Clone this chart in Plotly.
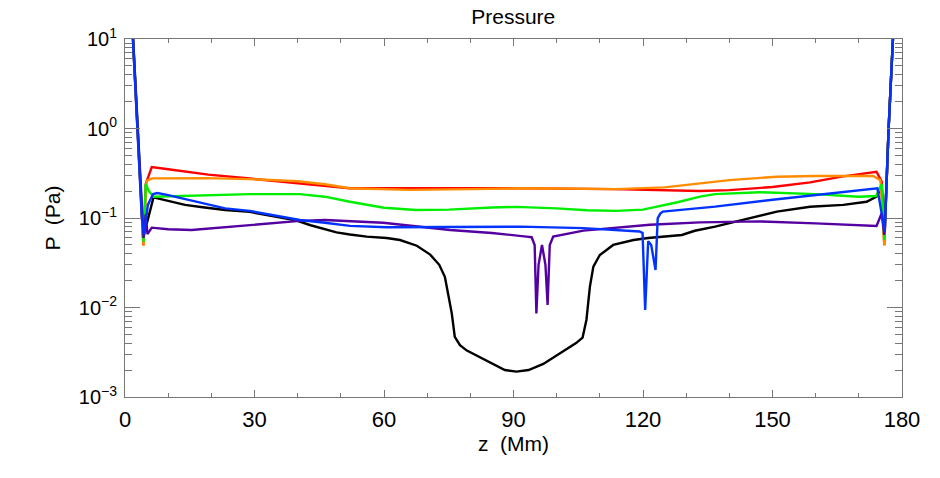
import plotly.graph_objects as go

# Shared steep boundary segments (z in Mm, P in Pa)
left_z = [0.8, 1.85, 2.85, 3.9]
left_p = [100, 10, 1.0, 0.1]
right_z = [176.1, 176.9, 177.9, 178.9]
right_p = [0.1, 1.0, 10, 100]

black_z = [4.2, 6.6, 10, 13.9, 18, 23.2, 28.9, 35, 39.6, 43, 46.3, 49, 52.1, 56, 60.6, 63.7, 67.6, 70.7, 72.8, 74.1, 75.0, 75.7,
           76.4, 77.6, 79.2, 82, 85.3, 88, 90.7, 93.5, 96.9, 100, 102.3, 104.5, 106, 106.9, 107.7, 108.5, 110, 113.1, 117.8,
           121.2, 129, 132, 136.7, 143.3, 151, 158.7, 166.4, 171.8, 174.1, 175.3, 176.0]
black_p = [0.06, 0.17, 0.155, 0.14, 0.132, 0.123, 0.117, 0.104, 0.094, 0.083, 0.0745, 0.069, 0.0655, 0.062, 0.0597, 0.0568,
           0.049, 0.039, 0.03, 0.022, 0.013, 0.0086, 0.0047, 0.0038, 0.0033, 0.0028, 0.00234, 0.002, 0.00192, 0.002, 0.00234,
           0.0029, 0.0034, 0.004, 0.0046, 0.0073, 0.0171, 0.0286, 0.0386, 0.05, 0.0568, 0.0597, 0.0646, 0.072, 0.08, 0.0954,
           0.118, 0.1335, 0.14, 0.152, 0.173, 0.225, 0.07]

red_z = [4.25, 4.8, 6.2, 10, 19.3, 28.9, 40, 46.3, 52, 70, 91.5, 113, 125, 133.2, 140, 150, 158.7, 166, 174.1, 175.3, 175.9]
red_p = [0.05, 0.24, 0.37, 0.35, 0.305, 0.276, 0.245, 0.226, 0.215, 0.215, 0.215, 0.21, 0.205, 0.2, 0.205, 0.222, 0.25, 0.29,
         0.329, 0.255, 0.05]

orange_z = [4.3, 5.0, 6.3, 19, 28.9, 40, 46.3, 52, 58, 66, 80, 91.5, 100, 113.5, 125, 133.2, 140, 151, 160, 173.3, 175.0, 175.9]
orange_p = [0.0487, 0.26, 0.277, 0.279, 0.272, 0.257, 0.238, 0.215, 0.21, 0.206, 0.21, 0.215, 0.214, 0.21, 0.22, 0.244, 0.265,
            0.289, 0.295, 0.295, 0.265, 0.049]

green_z = [4.3, 4.8, 5.5, 6.7, 15, 28.9, 40.5, 46.3, 52.1, 60, 67.4, 75, 85, 90.6, 100, 107, 113.8, 120, 128, 133.2, 136.7,
           147, 160, 170, 174, 175.3, 175.9]
green_p = [0.054, 0.24, 0.2, 0.173, 0.178, 0.185, 0.185, 0.173, 0.152, 0.13, 0.123, 0.124, 0.131, 0.133, 0.128, 0.122, 0.12,
           0.124, 0.15, 0.173, 0.185, 0.194, 0.185, 0.173, 0.176, 0.24, 0.057]

purple_z = [4.3, 4.8, 5.2, 6.2, 10, 15.4, 28.9, 40.5, 46.3, 59.8, 75.3, 85, 93, 94.2, 94.9, 95.3, 95.8, 96.6, 97.4, 97.9,
            98.4, 99.2, 106.2, 121.6, 133.2, 147, 160, 174.1, 175.3, 175.9]
purple_p = [0.06, 0.11, 0.066, 0.078, 0.075, 0.0734, 0.084, 0.0928, 0.095, 0.0886, 0.0734, 0.068, 0.062, 0.061, 0.05, 0.0086,
            0.03, 0.05, 0.03, 0.0107, 0.05, 0.062, 0.0722, 0.084, 0.0893, 0.0917, 0.087, 0.0816, 0.113, 0.065]

blue_z = [4.4, 5.3, 6.5, 7.5, 10, 23.2, 28.9, 40.5, 46.3, 52.1, 60.6, 75.3, 91.5, 106.2, 119.2, 119.9, 120.5, 121.2, 121.9,
          122.9, 123.4, 124.0, 124.6, 130, 136.7, 150, 160, 174.3, 176.0]
blue_p = [0.065, 0.14, 0.185, 0.19, 0.18, 0.128, 0.12, 0.095, 0.0886, 0.0816, 0.0787, 0.08, 0.08, 0.077, 0.0707, 0.068, 0.0094,
          0.055, 0.05, 0.0262, 0.099, 0.112, 0.118, 0.125, 0.134, 0.16, 0.18, 0.215, 0.07]

y_tickvals = [0.001, 0.01, 0.1, 1, 10]
y_ticktext = ["10<sup>−3</sup>", "10<sup>−2</sup>", "10<sup>−1</sup>", "10<sup>0</sup>", "10<sup>1</sup>"]
x_tickvals = [0, 30, 60, 90, 120, 150, 180]

series = [
    ("black", black_z, black_p, "#000000"),
    ("red", red_z, red_p, "#ff0000"),
    ("orange", orange_z, orange_p, "#ff8c00"),
    ("green", green_z, green_p, "#00ee00"),
    ("purple", purple_z, purple_p, "#5500a0"),
    ("blue", blue_z, blue_p, "#0033ff"),
]

fig = go.Figure()
for name, zs, ps, col in series:
    fig.add_trace(go.Scatter(
        x=left_z + zs + right_z,
        y=left_p + ps + right_p,
        mode="lines", name=name,
        line=dict(color=col, width=2.4),
        showlegend=False,
    ))

FONT = "Liberation Sans"
AX = "#777777"
fig.update_layout(
    width=940, height=478,
    paper_bgcolor="white", plot_bgcolor="white",
    margin=dict(l=125, r=38, t=39, b=81),
    font=dict(family=FONT, color="black"),
    title=dict(text="Pressure", x=0.546, xanchor="center", y=0.965, yanchor="middle",
               yref="container", font=dict(size=21, family=FONT)),
)
fig.update_xaxes(
    range=[0, 180], tickvals=x_tickvals,
    ticks="inside", ticklen=7, tickcolor=AX, tickwidth=1,
    minor=dict(ticks="inside", ticklen=4, dtick=10, tick0=0, tickcolor=AX, showgrid=False),
    showline=True, linecolor=AX, linewidth=1, mirror="ticks",
    showgrid=False, zeroline=False,
    tickfont=dict(size=22), ticklabelstandoff=3,
    title=dict(text="z  (Mm)", font=dict(size=21), standoff=1),
)
fig.update_yaxes(
    type="log", range=[-3, 1], tickvals=y_tickvals, ticktext=y_ticktext,
    ticks="inside", ticklen=15, tickcolor=AX, tickwidth=1,
    minor=dict(ticks="inside", ticklen=7, dtick="D1", tickcolor=AX, showgrid=False),
    showline=True, linecolor=AX, linewidth=1, mirror="ticks",
    showgrid=False, zeroline=False,
    tickfont=dict(size=20), ticklabelstandoff=3,
    title=dict(text="P  (Pa)", font=dict(size=21), standoff=12),
)
fig.write_html("out.html")
